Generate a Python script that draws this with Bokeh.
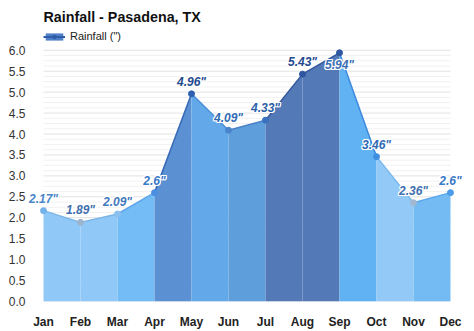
from bokeh.plotting import figure
from bokeh.models import Range1d, FixedTicker, PrintfTickFormatter, Legend, LegendItem, ColumnDataSource, LabelSet
from bokeh.core.properties import value
from bokeh.embed import file_html
from bokeh.resources import INLINE

months = ["Jan", "Feb", "Mar", "Apr", "May", "Jun", "Jul", "Aug", "Sep", "Oct", "Nov", "Dec"]
rainfall = [2.17, 1.89, 2.09, 2.6, 4.96, 4.09, 4.33, 5.43, 5.94, 3.46, 2.36, 2.6]
labels = ['2.17"', '1.89"', '2.09"', '2.6"', '4.96"', '4.09"', '4.33"', '5.43"', '5.94"', '3.46"', '2.36"', '2.6"']
y_ticks = [0.0, 0.5, 1.0, 1.5, 2.0, 2.5, 3.0, 3.5, 4.0, 4.5, 5.0, 5.5, 6.0]

seg_fill = ["#90c8f8", "#90c8f8", "#74bcf5", "#5b91d2", "#63a9e9", "#5e9edb",
            "#5479b7", "#5479b7", "#60b2f3", "#92c9f7", "#74bbf3"]
seg_line = ["#7ab3e6", "#7ab3e6", "#5ea5ea", "#3769b8", "#4a8fd8", "#4a82c8",
            "#34569c", "#34569c", "#3d8ae0", "#7ab8ee", "#5aa8ee"]
pt_color = ["#73b3ea", "#9db4cc", "#8cc0ee", "#4a8fe0", "#2e5fb0", "#4a84cc",
            "#3a70c0", "#2e55a0", "#2e55a0", "#3f8fe0", "#a0b8d0", "#4a9be8"]
lbl_color = ["#4a86c8", "#3f6fae", "#3f78bd", "#3a78c8", "#1f4a90", "#2f6ab4",
             "#2c5fa8", "#1f4a90", "#3a6fb5", "#2f6ab4", "#3f6fae", "#3a78c8"]

xs = list(range(len(months)))
X0, X1 = xs[0], xs[-1]

p = figure(width=474, height=331, output_backend="svg", toolbar_location=None,
           x_range=Range1d(-0.46, 11.46), y_range=Range1d(0, 6.52),
           min_border_left=26, min_border_right=7, min_border_top=28, min_border_bottom=27)
p.outline_line_color = None
p.background_fill_color = "white"
p.border_fill_color = "white"

p.title.text = "Rainfall - Pasadena, TX"
p.title.text_font = "Liberation Sans"
p.title.text_font_size = "14.3px"
p.title.text_font_style = "bold"
p.title.text_color = "#111111"
p.title.align = "left"
p.title.offset = 17
p.title.standoff = 7

# grid lines spanning only the data extent
minor_vals = [k * 0.125 for k in range(49) if (k % 4) != 0]
p.segment(x0=[X0] * len(minor_vals), x1=[X1] * len(minor_vals), y0=minor_vals, y1=minor_vals,
          line_color="#f1f1f1", line_width=1)
p.segment(x0=[X0] * len(y_ticks), x1=[X1] * len(y_ticks), y0=y_ticks, y1=y_ticks,
          line_color="#e2e2e2", line_width=1)

for i in range(len(months) - 1):
    p.varea(x=[xs[i], xs[i + 1]], y1=[0, 0], y2=[rainfall[i], rainfall[i + 1]],
            fill_color=seg_fill[i], fill_alpha=1.0)
for i in range(len(months) - 1):
    p.line([xs[i], xs[i + 1]], [rainfall[i], rainfall[i + 1]], line_color=seg_line[i], line_width=1.5)

src = ColumnDataSource(dict(x=xs, y=rainfall, c=pt_color))
p.scatter("x", "y", source=src, size=6, fill_color="c", line_color="c")

# legend-only renderers (placed outside the visible range)
leg_area = p.varea(x=[-5, -4], y1=[0, 0], y2=[1, 1], fill_color="#4f80c8")
leg_line = p.line(x=[-5, -4], y=[1, 1], line_color="#2f5ca8", line_width=2)
leg_pt = p.scatter(x=[-5], y=[1], size=5, fill_color="#2f5ca8", line_color="#2f5ca8")

above_idx = [i for i in xs if i != 8]
below_idx = [8]
src_a = ColumnDataSource(dict(x=[xs[i] for i in above_idx], y=[rainfall[i] for i in above_idx],
                              t=[labels[i] for i in above_idx], lc=[lbl_color[i] for i in above_idx]))
src_b = ColumnDataSource(dict(x=[xs[i] for i in below_idx], y=[rainfall[i] for i in below_idx],
                              t=[labels[i] for i in below_idx], lc=[lbl_color[i] for i in below_idx]))
halo = [(-1, -1), (-1, 0), (-1, 1), (0, -1), (0, 1), (1, -1), (1, 0), (1, 1)]
for s, base, dy in ((src_a, "bottom", 5), (src_b, "top", -5)):
    for hx, hy in halo + [(0, 0)]:
        col = value("white") if (hx, hy) != (0, 0) else "lc"
        ls = LabelSet(x="x", y="y", text="t", source=s, text_color=col,
                      text_font=value("Liberation Sans"), text_font_size=value("12px"),
                      text_font_style="bold italic", text_align="center",
                      text_baseline=base, x_offset=hx, y_offset=dy + hy)
        p.add_layout(ls)

# axes
p.yaxis.ticker = FixedTicker(ticks=y_ticks)
p.yaxis.formatter = PrintfTickFormatter(format="%.1f")
p.yaxis.axis_line_color = None
p.yaxis.major_tick_line_color = None
p.yaxis.minor_tick_line_color = None
p.yaxis.major_label_text_font = "Liberation Sans"
p.yaxis.major_label_text_font_size = "12px"
p.yaxis.major_label_text_color = "#333333"
p.yaxis.major_label_standoff = -5

p.xaxis.ticker = FixedTicker(ticks=xs)
p.xaxis.major_label_overrides = {i: m for i, m in enumerate(months)}
p.xaxis.axis_line_color = None
p.xaxis.major_tick_line_color = None
p.xaxis.minor_tick_line_color = None
p.xaxis.major_label_text_font = "Liberation Sans"
p.xaxis.major_label_text_font_size = "12px"
p.xaxis.major_label_text_font_style = "bold"
p.xaxis.major_label_text_color = "#222222"
p.xaxis.major_label_standoff = 7

p.xgrid.grid_line_color = None
p.ygrid.grid_line_color = None

legend = Legend(items=[LegendItem(label='Rainfall (")', renderers=[leg_area, leg_line, leg_pt])],
                location=(17, 259), orientation="horizontal",
                label_text_font="Liberation Sans", label_text_font_size="11px", label_text_color="#222222",
                glyph_width=22, glyph_height=9, padding=0, margin=0, spacing=0, label_standoff=5,
                label_height=12,
                border_line_color=None, background_fill_alpha=0)
p.add_layout(legend, "center")

open("out.html", "w").write(file_html(p, INLINE))
